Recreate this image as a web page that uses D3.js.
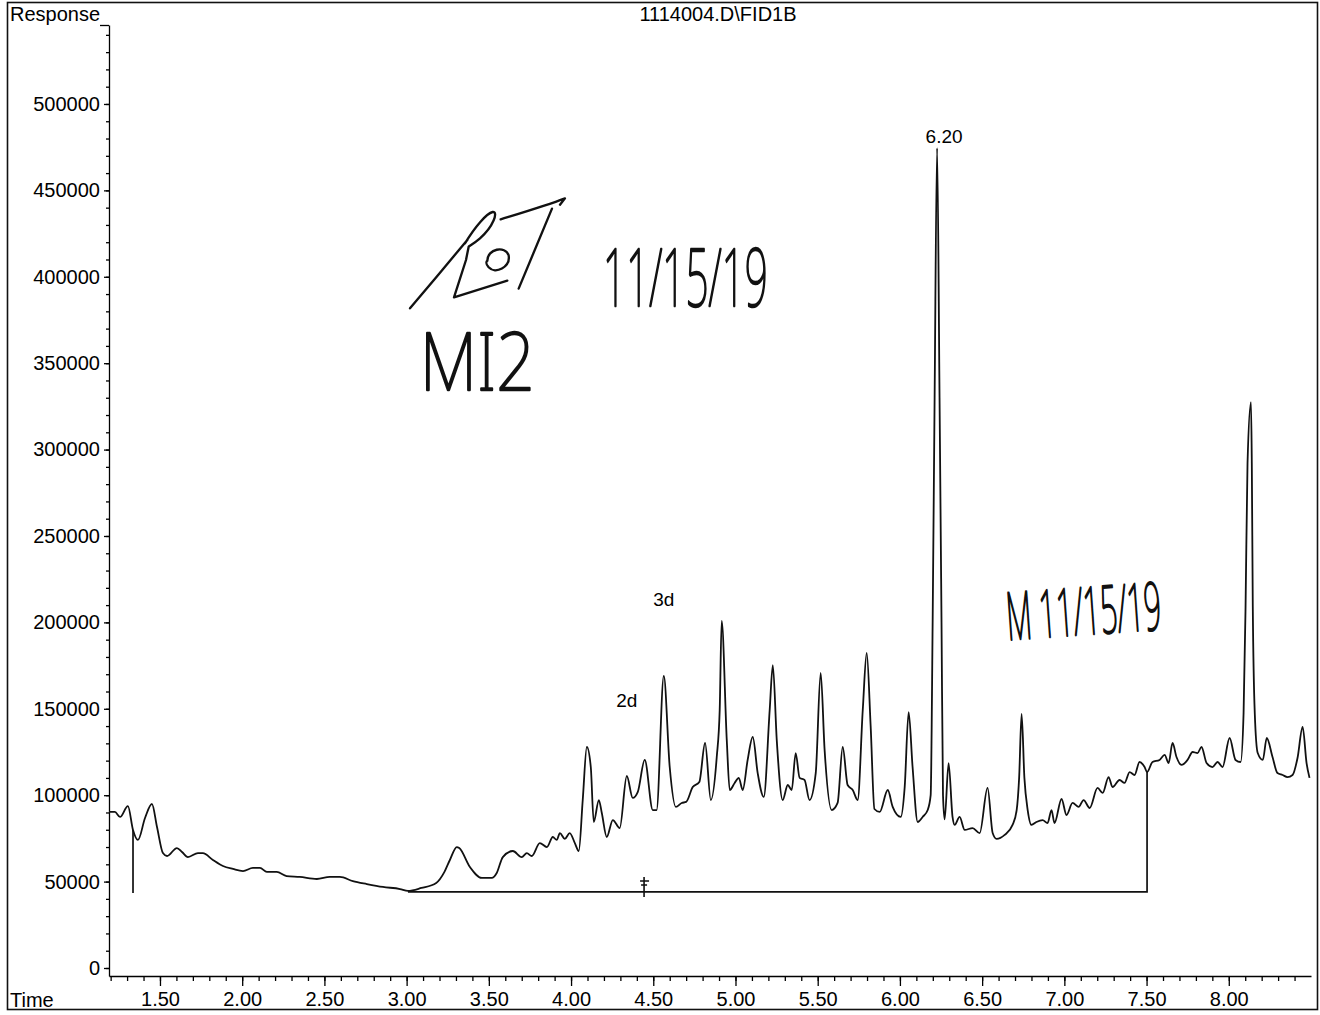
<!DOCTYPE html>
<html>
<head>
<meta charset="utf-8">
<script src="https://cdn.jsdelivr.net/npm/d3@7"></script>
<style>
  body { margin: 0; background: #fff; }
  .print { font-family: "Liberation Sans", Arial, sans-serif; fill: #000; }
  .hand { font-family: "Noto Sans", sans-serif; font-weight: 100; fill: #111;
          stroke: #111; stroke-width: 2.4; stroke-linejoin: round; }
</style>
</head>
<body>
<svg id="chart" width="1320" height="1015"></svg>
<script>
// FID signal, run 1114004 (retention time in minutes, detector response)
const signalTime = [
  1.190, 1.226, 1.257, 1.305, 1.336, 1.366, 1.409, 1.451, 1.482, 1.518,
  1.543, 1.603, 1.634, 1.670, 1.731, 1.761, 1.822, 1.883, 1.944, 2.005,
  2.065, 2.108, 2.150, 2.210, 2.270, 2.350, 2.454, 2.533, 2.594, 2.673,
  2.758, 2.856, 2.960, 3.008, 3.090, 3.180, 3.230, 3.263, 3.305, 3.320,
  3.385, 3.457, 3.518, 3.548, 3.585, 3.646, 3.700, 3.731, 3.761, 3.810,
  3.853, 3.889, 3.913, 3.932, 3.962, 3.992, 4.023, 4.047, 4.071, 4.096,
  4.120, 4.138, 4.169, 4.187, 4.217, 4.254, 4.296, 4.339, 4.375, 4.406,
  4.448, 4.497, 4.520, 4.564, 4.600, 4.637, 4.673, 4.700, 4.740, 4.780,
  4.815, 4.850, 4.886, 4.904, 4.916, 4.947, 4.965, 4.995, 5.020, 5.044,
  5.074, 5.105, 5.135, 5.172, 5.208, 5.227, 5.251, 5.287, 5.318, 5.342,
  5.366, 5.390, 5.420, 5.450, 5.488, 5.518, 5.542, 5.585, 5.621, 5.652,
  5.682, 5.713, 5.743, 5.774, 5.798, 5.822, 5.845, 5.877, 5.926, 5.956,
  6.005, 6.029, 6.053, 6.077, 6.108, 6.138, 6.169, 6.187, 6.199, 6.211,
  6.226, 6.241, 6.253, 6.262, 6.272, 6.296, 6.320, 6.333, 6.363, 6.394,
  6.442, 6.485, 6.533, 6.564, 6.588, 6.637, 6.685, 6.710, 6.725, 6.740,
  6.757, 6.777, 6.800, 6.830, 6.868, 6.898, 6.922, 6.940, 6.983, 7.013,
  7.050, 7.087, 7.117, 7.154, 7.202, 7.233, 7.269, 7.293, 7.336, 7.366,
  7.397, 7.427, 7.457, 7.488, 7.503, 7.536, 7.579, 7.610, 7.634, 7.658,
  7.682, 7.713, 7.749, 7.780, 7.810, 7.834, 7.865, 7.901, 7.932, 7.962,
  8.005, 8.041, 8.072, 8.090, 8.102, 8.114, 8.135, 8.140, 8.146, 8.158,
  8.176, 8.207, 8.231, 8.266, 8.296, 8.327, 8.357, 8.388, 8.418, 8.449,
  8.473, 8.491
];
const signalResponse = [
  90300, 90300, 87400, 93700, 79900, 74100, 86800, 94900, 81600, 66500,
  64800, 69400, 67100, 64200, 66500, 66500, 62500, 59000, 57300, 56100,
  57900, 57900, 55600, 55600, 53200, 52700, 51500, 52700, 52700, 50300,
  48600, 46900, 45700, 44600, 46300, 49200, 55600, 62500, 70000, 69400,
  58400, 52100, 52100, 55000, 64200, 67700, 64200, 66500, 64800, 72300,
  70000, 75800, 74100, 78100, 74700, 78100, 72300, 67700, 97200, 127900,
  116300, 84500, 97200, 89700, 75800, 85600, 81000, 111100, 98400, 101900,
  120400, 91400, 91400, 169000, 116300, 93200, 95500, 96100, 104700, 107600,
  130200, 97200, 122100, 149300, 200800, 131900, 103000, 107100, 110000, 103000,
  120400, 133700, 112800, 99000, 149300, 175300, 131900, 97200, 105900, 103000,
  124400, 110000, 108800, 97200, 112800, 170700, 126200, 91400, 95500, 127900,
  105900, 103000, 97200, 149300, 182300, 140000, 92000, 90300, 103000, 93200,
  87400, 104700, 148100, 116300, 84500, 87400, 91400, 100000, 200000, 330000,
  474500, 330000, 200000, 100000, 86000, 118600, 87400, 82800, 87400, 79900,
  81000, 78100, 104200, 78100, 74700, 77000, 82800, 91400, 110000, 147000,
  110000, 91400, 82800, 84500, 85600, 83900, 91400, 83900, 97800, 88500,
  95500, 93200, 97200, 92600, 104200, 101300, 110500, 104700, 108800, 107100,
  113400, 111700, 119200, 116300, 113400, 119200, 120400, 123300, 118600, 130200,
  122100, 117500, 120400, 125000, 124400, 127900, 118600, 116300, 119200, 116300,
  133100, 120400, 119200, 147600, 208900, 292200, 327500, 292200, 208900, 147600,
  124400, 120400, 133100, 122100, 112800, 111700, 110500, 111700, 121500, 139500,
  118600, 110000
];

// Integration baseline and event marks
const baselineStart = 3.008;
const baselineEnd = 7.503;
const baselineLevel = 44000;
const startEventTime = 1.336;
const startEventLevel = 43400;
const splitMarkTime = 4.444;

// Peak annotations
const peakLabelTimes = [6.226];
const peakLabelTexts = ["6.20"];
const compoundTexts = ["2d", "3d"];
const compoundTimes = [4.339, 4.564];
const compoundLevels = [151000, 209500];

// Axis ticks
const xMinorTicks = d3.range(12, 85).map(i => i / 10);
const xMajorTicks = [1.5, 2.0, 2.5, 3.0, 3.5, 4.0, 4.5, 5.0, 5.5, 6.0, 6.5, 7.0, 7.5, 8.0];
const yMinorTicks = d3.range(0, 55).map(i => i * 10000);
const yMajorTicks = [0, 50000, 100000, 150000, 200000, 250000, 300000, 350000, 400000, 450000, 500000];

const chartTitle = "1114004.D\\FID1B";

const svg = d3.select("#chart");
const plotLeft = 109, plotRight = 1311, plotTop = 25, plotBottom = 976;

const x = d3.scaleLinear().domain([1.19, 8.5]).range([plotLeft, plotRight]);
const y = d3.scaleLinear().domain([-4630, 545700]).range([plotBottom, plotTop]);

// page frame
svg.append("rect")
  .attr("x", 7.5).attr("y", 2.5).attr("width", 1310).attr("height", 1007)
  .attr("fill", "none").attr("stroke", "#111").attr("stroke-width", 1.6);

// x axis: minor ticks every 0.1 min, labelled ticks every 0.5 min
svg.append("g").attr("transform", `translate(0,${plotBottom})`)
  .call(d3.axisBottom(x).tickValues(xMinorTicks).tickSize(5).tickFormat("").tickSizeOuter(0));
const gxMajor = svg.append("g").attr("transform", `translate(0,${plotBottom})`)
  .call(d3.axisBottom(x).tickValues(xMajorTicks).tickSize(10).tickPadding(6)
    .tickFormat(d3.format(".2f")).tickSizeOuter(0));
gxMajor.select(".domain").remove();

// y axis
svg.append("g").attr("transform", `translate(${plotLeft},0)`)
  .call(d3.axisLeft(y).tickValues(yMinorTicks).tickSize(3).tickFormat("").tickSizeOuter(0));
const gyMajor = svg.append("g").attr("transform", `translate(${plotLeft},0)`)
  .call(d3.axisLeft(y).tickValues(yMajorTicks).tickSize(5).tickPadding(4)
    .tickFormat(d3.format("d")).tickSizeOuter(0));
gyMajor.select(".domain").remove();
svg.append("line")
  .attr("x1", plotLeft - 9).attr("x2", plotLeft)
  .attr("y1", plotTop + 0.5).attr("y2", plotTop + 0.5)
  .attr("stroke", "#000").attr("stroke-width", 1.3);

svg.selectAll(".domain, .tick line").attr("stroke", "#000").attr("stroke-width", 1.3);
svg.selectAll(".tick text")
  .attr("class", "print")
  .attr("font-family", null)
  .attr("font-size", 20);

// header and axis names
svg.append("text").attr("class", "print").attr("x", 10).attr("y", 21).attr("font-size", 20).text("Response");
svg.append("text").attr("class", "print").attr("x", 10).attr("y", 1007).attr("font-size", 20).text("Time");
svg.append("text").attr("class", "print").attr("x", 718).attr("y", 21).attr("font-size", 20)
  .attr("text-anchor", "middle").text(chartTitle);

// chromatogram trace
const signal = signalTime.map((t, i) => ({ t, v: signalResponse[i] }));
const line = d3.line().x(d => x(d.t)).y(d => y(d.v)).curve(d3.curveMonotoneX);
svg.append("path")
  .datum(signal)
  .attr("d", line)
  .attr("fill", "none")
  .attr("stroke", "#111")
  .attr("stroke-width", 1.8)
  .attr("stroke-linejoin", "round");

const valueAt = t => d3.scaleLinear().domain(signalTime).range(signalResponse)(t);

// integration baseline with drop line at the end
svg.append("path")
  .attr("d", `M${x(baselineStart)},${y(baselineLevel)}H${x(baselineEnd)}V${y(valueAt(baselineEnd))}`)
  .attr("fill", "none").attr("stroke", "#111").attr("stroke-width", 1.7);

// run start event line
svg.append("line")
  .attr("x1", x(startEventTime)).attr("x2", x(startEventTime))
  .attr("y1", y(valueAt(startEventTime))).attr("y2", y(startEventLevel))
  .attr("stroke", "#111").attr("stroke-width", 1.7);

// split marker on the baseline
const sx = x(splitMarkTime), sy = y(baselineLevel);
svg.append("path")
  .attr("d", `M${sx},${sy - 15}V${sy + 5}M${sx - 4},${sy - 11}H${sx + 5}M${sx - 3},${sy - 7}H${sx + 3}`)
  .attr("fill", "none").attr("stroke", "#111").attr("stroke-width", 1.6);

// retention time label
svg.selectAll(".rt-label")
  .data(peakLabelTimes)
  .join("text")
  .attr("class", "rt-label print")
  .attr("x", d => x(d) + 7)
  .attr("y", d => y(valueAt(d)) - 5)
  .attr("text-anchor", "middle")
  .attr("font-size", 19)
  .text((d, i) => peakLabelTexts[i]);

// compound labels
svg.selectAll(".cmp-label")
  .data(compoundTexts)
  .join("text")
  .attr("class", "cmp-label print")
  .attr("x", (d, i) => x(compoundTimes[i]))
  .attr("y", (d, i) => y(compoundLevels[i]))
  .attr("text-anchor", "middle")
  .attr("font-size", 19)
  .text(d => d);

// handwritten notes: reviewer initials and dates
const ink = svg.append("g").attr("fill", "none").attr("stroke", "#111")
  .attr("stroke-linecap", "round").attr("stroke-linejoin", "round");
const sig = ink.append("g").attr("transform", "translate(380,180) scale(0.3333)")
  .attr("stroke-width", 7);
sig.append("path").attr("d",
  "M90,385 L170,290 L262,180" +
  "M255,190 C285,140 320,100 338,96 C356,94 340,140 300,175 C285,188 272,196 266,200 L258,240 L222,352 L382,302" +
  "M322,242 C322,206 376,196 386,226 C392,262 346,284 326,262 C316,250 318,246 322,242" +
  "M362,118 C420,100 500,76 555,55 L540,74" +
  "M516,86 L416,326");

// each note is squeezed horizontally to the width it occupies on the sheet
const notes = [
  { text: "11/15/19", x: 603, y: 306, size: 80, width: 165, angle: 0 },
  { text: "MI2", x: 420, y: 390, size: 80, width: 115, angle: 0 },
  { text: "M 11/15/19", x: 1008, y: 640, size: 66, width: 155, angle: -4 }
];
notes.forEach(n => {
  const t = svg.append("text").attr("class", "hand").style("font-size", n.size + "px").text(n.text);
  const natural = t.node().getComputedTextLength();
  t.attr("transform", `translate(${n.x},${n.y}) rotate(${n.angle}) scale(${n.width / natural},1)`);
});
</script>
</body>
</html>
